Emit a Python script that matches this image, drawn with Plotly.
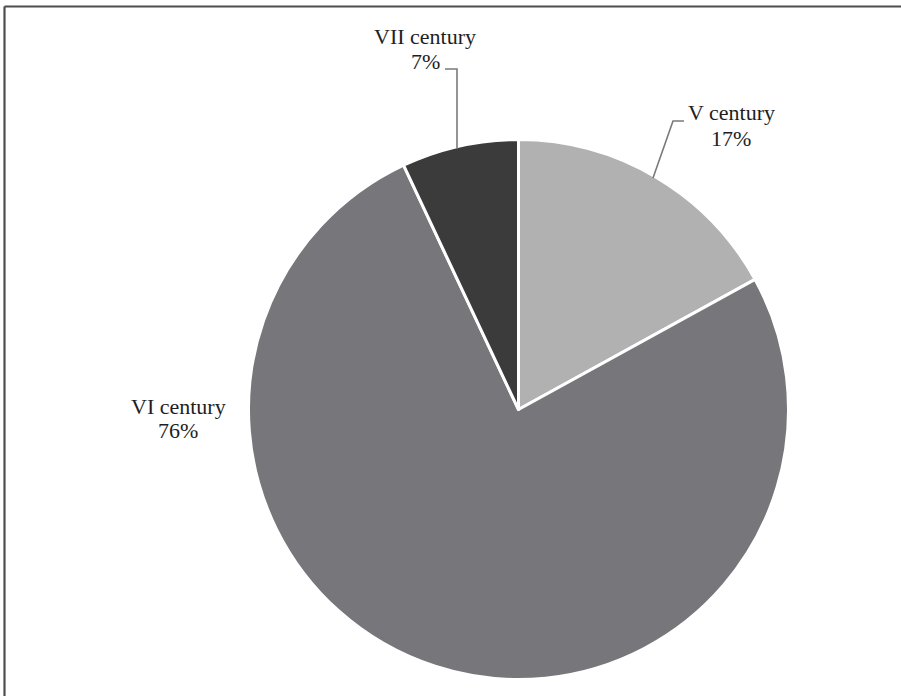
import plotly.graph_objects as go

# Share of finds by century
labels = ["V century", "VI century", "VII century"]
shares = [17, 76, 7]
colors = ["#b1b1b1", "#77777b", "#3b3b3b"]

W, H = 901, 696


def px(x):
    return x / W


def py(y):
    return 1 - y / H


# pie geometry in pixels
cx, cy, r = 518.5, 409.5, 270

fig = go.Figure(
    go.Pie(
        labels=labels,
        values=shares,
        sort=False,
        direction="clockwise",
        rotation=0,
        marker=dict(colors=colors, line=dict(color="white", width=3)),
        textinfo="none",
        hoverinfo="skip",
        showlegend=False,
        domain=dict(x=[px(cx - r), px(cx + r)], y=[py(cy + r), py(cy - r)]),
    )
)

font = dict(family="Liberation Serif, Times New Roman, serif", size=22, color="#1e1e1e")

# label text positions (centre of each line, pixels)
label_pos = {
    "V century": (731, 113),
    "VI century": (178, 406),
    "VII century": (425, 37),
}
line_gap = 25

annotations = []
for name, val in zip(labels, shares):
    x, y = label_pos[name]
    for i, txt in enumerate([name, f"{val}%"]):
        annotations.append(
            dict(
                x=px(x), y=py(y + i * line_gap), xref="paper", yref="paper",
                text=txt, showarrow=False, font=font,
                xanchor="center", yanchor="middle",
            )
        )

shapes = []
lead = dict(color="#7a7a7a", width=1.6)
# leader line for VII century
shapes.append(dict(type="path", xref="paper", yref="paper",
                   path=f"M {px(445)} {py(69)} L {px(457)} {py(69)} L {px(457)} {py(149)}",
                   line=lead))
# leader line for V century
shapes.append(dict(type="path", xref="paper", yref="paper",
                   path=f"M {px(684)} {py(121)} L {px(673)} {py(121)} L {px(653)} {py(178)}",
                   line=lead))
# outer frame (top and left edges)
frame = dict(color="#4d4d4d", width=2.2)
shapes.append(dict(type="line", xref="paper", yref="paper",
                   x0=px(4.5), y0=py(6.5), x1=1.01, y1=py(6.5), line=frame))
shapes.append(dict(type="line", xref="paper", yref="paper",
                   x0=px(4.5), y0=py(6.5), x1=px(4.5), y1=-0.01, line=frame))

fig.update_layout(
    width=W, height=H,
    margin=dict(l=0, r=0, t=0, b=0),
    paper_bgcolor="white",
    plot_bgcolor="white",
    annotations=annotations,
    shapes=shapes,
)

fig.write_html("out.html")
